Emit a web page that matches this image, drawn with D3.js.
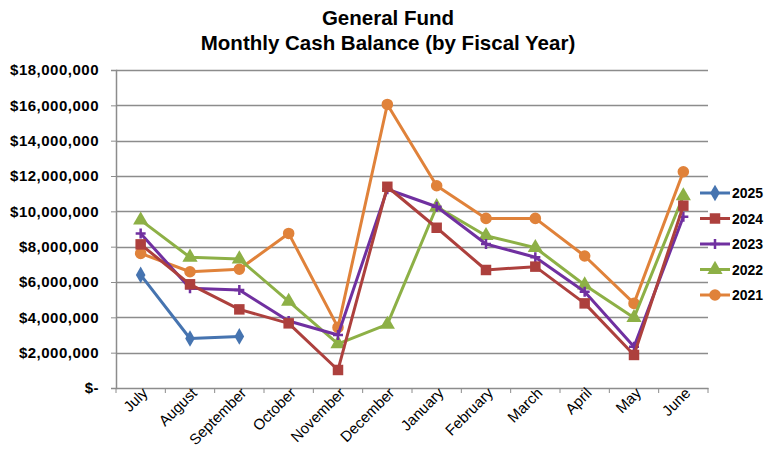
<!DOCTYPE html>
<html>
<head>
<meta charset="utf-8">
<script src="https://cdn.jsdelivr.net/npm/d3@7"></script>
<style>
  body { margin: 0; background: #fff; }
  svg { display: block; font-family: "Liberation Sans", Arial, sans-serif; }
</style>
</head>
<body>
<div id="chart"></div>
<script>
const months = ["July", "August", "September", "October", "November", "December",
  "January", "February", "March", "April", "May", "June"];
const yTicks = [0, 2e6, 4e6, 6e6, 8e6, 10e6, 12e6, 14e6, 16e6, 18e6];

const fy2025 = [6.4e6, 2.8e6, 2.92e6];
const fy2024 = [8.13e6, 5.87e6, 4.45e6, 3.66e6, 1.02e6, 11.39e6, 9.07e6, 6.68e6, 6.87e6, 4.79e6, 1.87e6, 10.32e6];
const fy2023 = [8.75e6, 5.64e6, 5.55e6, 3.79e6, 3.0e6, 11.25e6, 10.26e6, 8.15e6, 7.4e6, 5.45e6, 2.34e6, 9.69e6];
const fy2022 = [9.5e6, 7.4e6, 7.3e6, 4.9e6, 2.5e6, 3.6e6, 10.26e6, 8.62e6, 7.94e6, 5.83e6, 3.98e6, 10.87e6];
const fy2021 = [7.62e6, 6.58e6, 6.72e6, 8.75e6, 3.43e6, 16.05e6, 11.45e6, 9.6e6, 9.6e6, 7.47e6, 4.79e6, 12.24e6];

const series = [
  { name: "2025", values: fy2025, color: "#4674B0", symbol: "diamond" },
  { name: "2024", values: fy2024, color: "#AD403D", symbol: "square" },
  { name: "2023", values: fy2023, color: "#7030A0", symbol: "plus" },
  { name: "2022", values: fy2022, color: "#8DB046", symbol: "triangle" },
  { name: "2021", values: fy2021, color: "#E0823A", symbol: "circle" },
];

const width = 769, height = 465;
const margin = { top: 70, right: 61, bottom: 77, left: 116 };

const svg = d3.select("#chart").append("svg")
  .attr("width", width)
  .attr("height", height);

const x = d3.scaleBand()
  .domain(months)
  .range([margin.left, width - margin.right]);

const y = d3.scaleLinear()
  .domain([0, 18e6])
  .range([height - margin.bottom, margin.top]);

// title
svg.append("text")
  .attr("x", 388).attr("y", 25)
  .attr("text-anchor", "middle")
  .attr("font-size", "20.5px").attr("font-weight", "bold")
  .text("General Fund");
svg.append("text")
  .attr("x", 388).attr("y", 50)
  .attr("text-anchor", "middle")
  .attr("font-size", "20.5px").attr("font-weight", "bold")
  .text("Monthly Cash Balance (by Fiscal Year)");

// gridlines
svg.append("g")
  .selectAll("line")
  .data(yTicks.filter(d => d > 0))
  .enter()
  .append("line")
  .attr("x1", margin.left)
  .attr("x2", width - margin.right)
  .attr("y1", d => Math.round(y(d)) + 0.5)
  .attr("y2", d => Math.round(y(d)) + 0.5)
  .attr("stroke", "#8C8C8C")
  .attr("stroke-width", 1.5);

// y axis
const fmt = d3.format(",");
const yAxis = svg.append("g")
  .attr("transform", `translate(${margin.left},0)`)
  .call(d3.axisLeft(y).tickValues(yTicks).tickSize(5).tickPadding(12)
    .tickFormat(d => d === 0 ? "$-" : "$" + fmt(d)));
yAxis.select(".domain").attr("stroke", "#8C8C8C").attr("stroke-width", 1.5);
yAxis.selectAll(".tick line").attr("stroke", "#8C8C8C");
yAxis.selectAll("text")
  .attr("font-size", "15px").attr("font-weight", "bold")
  .attr("letter-spacing", "0.5px")
  .attr("font-family", "Liberation Sans, Arial, sans-serif")
  .attr("fill", "#000");

// x axis
const xAxis = svg.append("g")
  .attr("transform", `translate(0,${height - margin.bottom})`)
  .call(d3.axisBottom(x).tickSize(0).tickFormat(""));
xAxis.select(".domain").attr("stroke", "#8C8C8C").attr("stroke-width", 1.5);

svg.append("g")
  .selectAll("line")
  .data(d3.range(months.length + 1))
  .enter()
  .append("line")
  .attr("x1", i => margin.left + i * x.step())
  .attr("x2", i => margin.left + i * x.step())
  .attr("y1", height - margin.bottom)
  .attr("y2", height - margin.bottom + 5)
  .attr("stroke", "#8C8C8C");

svg.append("g")
  .selectAll("text")
  .data(months)
  .enter()
  .append("text")
  .attr("transform", d => `translate(${x(d) + x.bandwidth() / 2 + 8},${height - margin.bottom + 6}) rotate(-45)`)
  .attr("text-anchor", "end")
  .attr("font-size", "15px")
  .text(d => d);

// lines and markers
const line = d3.line()
  .x((d, i) => x(months[i]) + x.bandwidth() / 2)
  .y(d => y(d));

const symbolTypes = {
  diamond: d3.symbolDiamond,
  square: d3.symbolSquare,
  triangle: d3.symbolTriangle,
  circle: d3.symbolCircle,
};
const symbolSizes = { diamond: 80, square: 110, triangle: 100, circle: 105 };

function drawMarker(g, s, cx, cy) {
  if (s.symbol === "plus") {
    g.append("path")
      .attr("d", `M${cx - 5},${cy}H${cx + 5}M${cx},${cy - 5}V${cy + 5}`)
      .attr("stroke", s.color)
      .attr("stroke-width", 2.5);
  } else {
    g.append("path")
      .attr("d", d3.symbol().type(symbolTypes[s.symbol]).size(symbolSizes[s.symbol])())
      .attr("transform", `translate(${cx},${cy})`)
      .attr("fill", s.color);
  }
}

const plot = svg.append("g");
series.slice().reverse().forEach(s => {
  const g = plot.append("g");
  g.append("path")
    .datum(s.values)
    .attr("d", line)
    .attr("fill", "none")
    .attr("stroke", s.color)
    .attr("stroke-width", 3)
    .attr("stroke-linejoin", "round");
  s.values.forEach((v, i) => {
    drawMarker(g, s, x(months[i]) + x.bandwidth() / 2, y(v));
  });
});

// legend
const legend = svg.append("g");
series.forEach((s, i) => {
  const ly = 193 + i * 25.5;
  const g = legend.append("g");
  g.append("line")
    .attr("x1", 700).attr("x2", 730)
    .attr("y1", ly).attr("y2", ly)
    .attr("stroke", s.color)
    .attr("stroke-width", 3);
  drawMarker(g, s, 715, ly);
  g.append("text")
    .attr("x", 732).attr("y", ly + 5)
    .attr("font-size", "14px").attr("font-weight", "bold")
    .text(s.name);
});
</script>
</body>
</html>
